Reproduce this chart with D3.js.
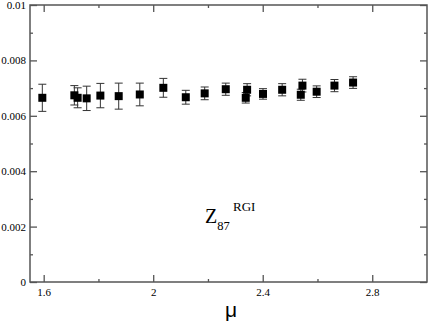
<!DOCTYPE html>
<html>
<head>
<meta charset="utf-8"/>
<script src="https://d3js.org/d3.v7.min.js"></script>
<style>
    body { margin: 0; background: #fff; }
    svg { display: block; }
    .serif { font-family: "Liberation Serif", "Times New Roman", Times, serif; }
</style>
</head>
<body>
<svg class="main" width="428" height="323"></svg>
<script>
    // data
    var muValues = [1.595, 1.712, 1.724, 1.757, 1.807, 1.874, 1.951, 2.037, 2.119, 2.188, 2.265,
        2.338, 2.343, 2.401, 2.471, 2.539, 2.545, 2.597, 2.662, 2.730]
    var zValues = [0.00665, 0.00674, 0.00665, 0.00663, 0.00673, 0.00671, 0.00677, 0.00701, 0.00667, 0.00681, 0.00696,
        0.00665, 0.00694, 0.00679, 0.00694, 0.00676, 0.00709, 0.00687, 0.00709, 0.00720]
    var zErrors = [0.00049, 0.00035, 0.00036, 0.00044, 0.00044, 0.00047, 0.00041, 0.00034, 0.00025, 0.00023, 0.00022,
        0.00019, 0.00022, 0.00019, 0.00022, 0.00020, 0.00023, 0.00021, 0.00022, 0.00021]
    var xMajorTicks = [1.6, 2, 2.4, 2.8]
    var xMinorTicks = [1.8, 2.2, 2.6]
    var yMajorTicks = [0, 0.002, 0.004, 0.006, 0.008, 0.01]
    var yMinorTicks = [0.001, 0.003, 0.005, 0.007, 0.009]

    var points = muValues.map(function (m, i) {
        return {x: m, y: zValues[i], e: zErrors[i]}
    })

    var pLeft = 30, pRight = 427, pTop = 5, pBottom = 282
    var axisColor = "#555"

    var x = d3.scaleLinear().domain([1.55, 3.0]).range([pLeft, pRight])
    var y = d3.scaleLinear().domain([0, 0.01]).range([pBottom, pTop])

    var svg = d3.select("svg.main")

    function styleAxis(g) {
        g.select(".domain").remove()
        g.attr("font-family", null).attr("font-size", null).attr("class", "serif")
        g.selectAll(".tick line").attr("stroke", axisColor).attr("stroke-width", 1.3)
        g.selectAll("text").attr("fill", "#000").style("font-size", "11px")
    }

    // bottom axis
    svg.append("g").attr("transform", "translate(0," + pBottom + ")")
        .call(d3.axisBottom(x).tickValues(xMajorTicks).tickSizeInner(-7).tickSizeOuter(0).tickPadding(6)
            .tickFormat(d3.format("")))
        .call(styleAxis)
    svg.append("g").attr("transform", "translate(0," + pBottom + ")")
        .call(d3.axisBottom(x).tickValues(xMinorTicks).tickSizeInner(-3).tickSizeOuter(0).tickFormat(""))
        .call(styleAxis)
    // top axis
    svg.append("g").attr("transform", "translate(0," + pTop + ")")
        .call(d3.axisTop(x).tickValues(xMajorTicks).tickSizeInner(-7).tickSizeOuter(0).tickFormat(""))
        .call(styleAxis)
    svg.append("g").attr("transform", "translate(0," + pTop + ")")
        .call(d3.axisTop(x).tickValues(xMinorTicks).tickSizeInner(-3).tickSizeOuter(0).tickFormat(""))
        .call(styleAxis)
    // left axis
    svg.append("g").attr("transform", "translate(" + pLeft + ",0)")
        .call(d3.axisLeft(y).tickValues(yMajorTicks).tickSizeInner(-7).tickSizeOuter(0).tickPadding(4)
            .tickFormat(function (d) { return d === 0 ? "0" : String(+d.toFixed(3)) }))
        .call(styleAxis)
    svg.append("g").attr("transform", "translate(" + pLeft + ",0)")
        .call(d3.axisLeft(y).tickValues(yMinorTicks).tickSizeInner(-3).tickSizeOuter(0).tickFormat(""))
        .call(styleAxis)
    // right axis
    svg.append("g").attr("transform", "translate(" + pRight + ",0)")
        .call(d3.axisRight(y).tickValues(yMajorTicks).tickSizeInner(-7).tickSizeOuter(0).tickFormat(""))
        .call(styleAxis)
    svg.append("g").attr("transform", "translate(" + pRight + ",0)")
        .call(d3.axisRight(y).tickValues(yMinorTicks).tickSizeInner(-3).tickSizeOuter(0).tickFormat(""))
        .call(styleAxis)

    // frame
    svg.append("rect")
        .attr("x", pLeft).attr("y", pTop)
        .attr("width", pRight - pLeft).attr("height", pBottom - pTop)
        .attr("fill", "none").attr("stroke", axisColor).attr("stroke-width", 1.5)

    // error bars
    var eb = svg.append("g").attr("stroke", "#333").attr("stroke-width", 1)
    var cap = 4
    eb.selectAll("line.v").data(points).enter().append("line")
        .attr("x1", function (d) { return x(d.x) }).attr("x2", function (d) { return x(d.x) })
        .attr("y1", function (d) { return y(d.y - d.e) }).attr("y2", function (d) { return y(d.y + d.e) })
    eb.selectAll("line.t").data(points).enter().append("line")
        .attr("x1", function (d) { return x(d.x) - cap }).attr("x2", function (d) { return x(d.x) + cap })
        .attr("y1", function (d) { return y(d.y + d.e) }).attr("y2", function (d) { return y(d.y + d.e) })
    eb.selectAll("line.b").data(points).enter().append("line")
        .attr("x1", function (d) { return x(d.x) - cap }).attr("x2", function (d) { return x(d.x) + cap })
        .attr("y1", function (d) { return y(d.y - d.e) }).attr("y2", function (d) { return y(d.y - d.e) })

    // markers
    var s = 8
    svg.append("g").selectAll("rect").data(points).enter().append("rect")
        .attr("x", function (d) { return x(d.x) - s / 2 })
        .attr("y", function (d) { return y(d.y) - s / 2 })
        .attr("width", s).attr("height", s)
        .attr("fill", "#000")

    // annotation
    var note = svg.append("text").attr("class", "serif").attr("x", 205).attr("y", 222.5).attr("fill", "#000")
    note.append("tspan").style("font-size", "20px").text("Z")
    note.append("tspan").attr("dy", 7.5).style("font-size", "12.5px").text("87")
    svg.append("text").attr("class", "serif").attr("x", 233).attr("y", 211)
        .style("font-size", "13px").attr("fill", "#000").text("RGI")

    // x label
    svg.append("text").attr("x", 231).attr("y", 317).attr("text-anchor", "middle")
        .style("font-family", "'Liberation Sans', Arial, sans-serif").style("font-size", "21px")
        .attr("fill", "#000").text("μ")
</script>
</body>
</html>
